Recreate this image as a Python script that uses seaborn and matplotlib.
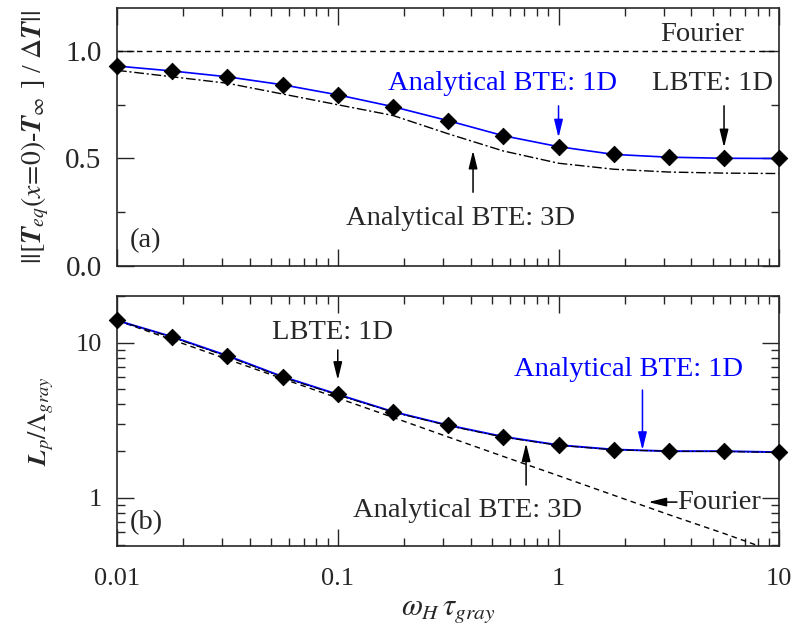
import numpy as np
import pandas as pd
import seaborn as sns
import matplotlib.pyplot as plt
from matplotlib.ticker import FixedLocator, NullFormatter

# omega_H * tau_gray sample points (quarter decades)
omega = [0.01, 0.0178, 0.0316, 0.0562, 0.1, 0.178, 0.316, 0.562, 1.0, 1.78, 3.16, 5.62, 10.0]

# panel (a): normalised temperature amplitude
amp_lbte_1d = [0.930, 0.907, 0.880, 0.843, 0.796, 0.741, 0.676, 0.606, 0.555, 0.519, 0.506, 0.501, 0.500]
amp_bte_1d = [0.930, 0.907, 0.880, 0.843, 0.796, 0.741, 0.676, 0.606, 0.555, 0.519, 0.506, 0.501, 0.500]
amp_bte_3d = [0.910, 0.880, 0.850, 0.800, 0.750, 0.700, 0.615, 0.535, 0.478, 0.450, 0.437, 0.432, 0.430]
amp_fourier = [1.0] * len(omega)

# panel (b): penetration depth
lp_lbte_1d = [13.9, 10.9, 8.24, 6.04, 4.64, 3.59, 2.94, 2.48, 2.19, 2.05, 2.00, 2.00, 1.97]
lp_bte_1d = [13.9, 10.9, 8.24, 6.04, 4.64, 3.59, 2.94, 2.48, 2.19, 2.05, 2.00, 2.00, 1.97]
lp_bte_3d = [13.9, 10.8, 8.15, 5.98, 4.60, 3.57, 2.92, 2.46, 2.18, 2.04, 2.00, 1.99, 1.96]
lp_fourier = [13.9, 10.43, 7.82, 5.86, 4.40, 3.30, 2.47, 1.85, 1.39, 1.04, 0.78, 0.59, 0.44]

df = pd.DataFrame({
    "omega": omega,
    "amp_lbte": amp_lbte_1d, "amp_1d": amp_bte_1d, "amp_3d": amp_bte_3d, "amp_f": amp_fourier,
    "lp_lbte": lp_lbte_1d, "lp_1d": lp_bte_1d, "lp_3d": lp_bte_3d, "lp_f": lp_fourier,
})

sns.set_style("ticks")
plt.rcParams["font.family"] = ["Liberation Serif", "DejaVu Serif"]
plt.rcParams["mathtext.fontset"] = "stix"
plt.rcParams["axes.linewidth"] = 1.2

fig = plt.figure(figsize=(7.96, 6.30), dpi=100)
ax1 = fig.add_axes([0.147, 0.5778, 0.832, 0.4095])
ax2 = fig.add_axes([0.147, 0.1333, 0.832, 0.397])

blue = "#0000ff"
fs = 20.5


def arrow(ax, x, y_tail, y_tip, color="black", x_tail=None):
    if x_tail is None:
        x_tail = x
    ax.annotate("", xy=(x, y_tip), xytext=(x_tail, y_tail),
                arrowprops=dict(arrowstyle="-|>,head_length=0.9,head_width=0.22", color=color,
                                lw=1.1, shrinkA=0, shrinkB=0, mutation_scale=12))


# --- panel (a)
sns.lineplot(data=df, x="omega", y="amp_f", ax=ax1, color="black", lw=1.0, linestyle=(0, (4, 3)))
sns.lineplot(data=df, x="omega", y="amp_3d", ax=ax1, color="black", lw=1.0, linestyle=(0, (7, 2, 1.5, 2)))
sns.lineplot(data=df, x="omega", y="amp_1d", ax=ax1, color=blue, lw=1.2)
sns.scatterplot(data=df, x="omega", y="amp_lbte", ax=ax1, marker="D", s=70, color="black",
                edgecolor="black", zorder=5, clip_on=False)

ax1.text(4.47, 1.079, "Fourier", fontsize=fs, ha="center", va="center")
ax1.text(0.555, 0.847, "Analytical BTE: 1D", fontsize=fs, color=blue, ha="center", va="center")
arrow(ax1, 1.0, 0.745, 0.597, color=blue)
ax1.text(4.97, 0.847, "LBTE: 1D", fontsize=fs, ha="center", va="center")
arrow(ax1, 5.62, 0.745, 0.551)
ax1.text(0.358, 0.222, "Analytical BTE: 3D", fontsize=fs, ha="center", va="center")
arrow(ax1, 0.41, 0.343, 0.537)
ax1.text(0.01145, 0.12, "(a)", fontsize=fs, ha="left", va="center")

ax1.set_xscale("log")
ax1.set_xlim(0.01, 10)
ax1.set_ylim(0, 1.2)
ax1.set_yticks([0.0, 0.5, 1.0])
ax1.set_yticklabels(["0.0", "0.5", "1.0"])
ax1.yaxis.set_minor_locator(FixedLocator([0.25, 0.75]))
ax1.xaxis.set_major_formatter(NullFormatter())
ax1.xaxis.set_minor_formatter(NullFormatter())
ax1.set_xlabel("")
ax1.set_ylabel(r"$||[\mathbfit{T}_{eq}(x\!=\!0)$-$\mathbfit{T}_{\infty}$ ] / $\Delta \mathbfit{T}||$",
               fontsize=20, labelpad=10)
ax1.tick_params(axis="y", which="major", labelsize=21)

# --- panel (b)
sns.lineplot(data=df, x="omega", y="lp_f", ax=ax2, color="black", lw=1.0, linestyle=(0, (4, 3)))
sns.lineplot(data=df, x="omega", y="lp_1d", ax=ax2, color=blue, lw=1.4)
sns.lineplot(data=df, x="omega", y="lp_3d", ax=ax2, color="black", lw=0.8, linestyle=(0, (7, 2, 1.5, 2)))
sns.scatterplot(data=df, x="omega", y="lp_lbte", ax=ax2, marker="D", s=70, color="black",
                edgecolor="black", zorder=5, clip_on=False)

ax2.text(0.0942, 11.55, "LBTE: 1D", fontsize=fs, ha="center", va="center")
arrow(ax2, 0.1, 8.97, 5.74)
ax2.text(2.07, 6.67, "Analytical BTE: 1D", fontsize=fs, color=blue, ha="center", va="center")
arrow(ax2, 2.4, 4.95, 2.03, color=blue)
ax2.text(0.386, 0.834, "Analytical BTE: 3D", fontsize=fs, ha="center", va="center")
arrow(ax2, 0.713, 1.21, 2.25)
ax2.text(3.44, 0.94, "Fourier", fontsize=fs, ha="left", va="center")
ax2.annotate("", xy=(2.55, 0.94), xytext=(3.44, 0.94),
             arrowprops=dict(arrowstyle="-|>,head_length=0.9,head_width=0.22", color="black",
                             lw=1.1, shrinkA=0, shrinkB=0, mutation_scale=12))
ax2.text(0.01145, 0.697, "(b)", fontsize=fs, ha="left", va="center")

ax2.set_xscale("log")
ax2.set_yscale("log")
ax2.set_xlim(0.01, 10)
ax2.set_ylim(0.49, 20)
ax2.set_yticks([1, 10])
ax2.set_yticklabels(["1", "10"])
ax2.set_xticks([0.01, 0.1, 1, 10])
ax2.set_xticklabels(["0.01", "0.1", "1", "10"])
ax2.set_xlabel(r"$\omega_H\,\tau_{gray}$", fontsize=22, labelpad=4)
ax2.set_ylabel(r"$\mathbfit{L}_p/\Lambda_{gray}$", fontsize=19, labelpad=14)

for ax in (ax1, ax2):
    ax.tick_params(which="both", direction="in", top=True, right=True)
    ax.tick_params(which="major", length=12, width=1.0)
    ax.tick_params(which="minor", length=6, width=1.0)
    ax.tick_params(axis="y", pad=11)
    ax.spines[:].set_visible(True)
    if ax.get_legend():
        ax.get_legend().remove()
ax2.tick_params(axis="both", which="major", labelsize=19)
ax2.tick_params(axis="x", pad=16)

fig.savefig("out.png", dpi=100)
